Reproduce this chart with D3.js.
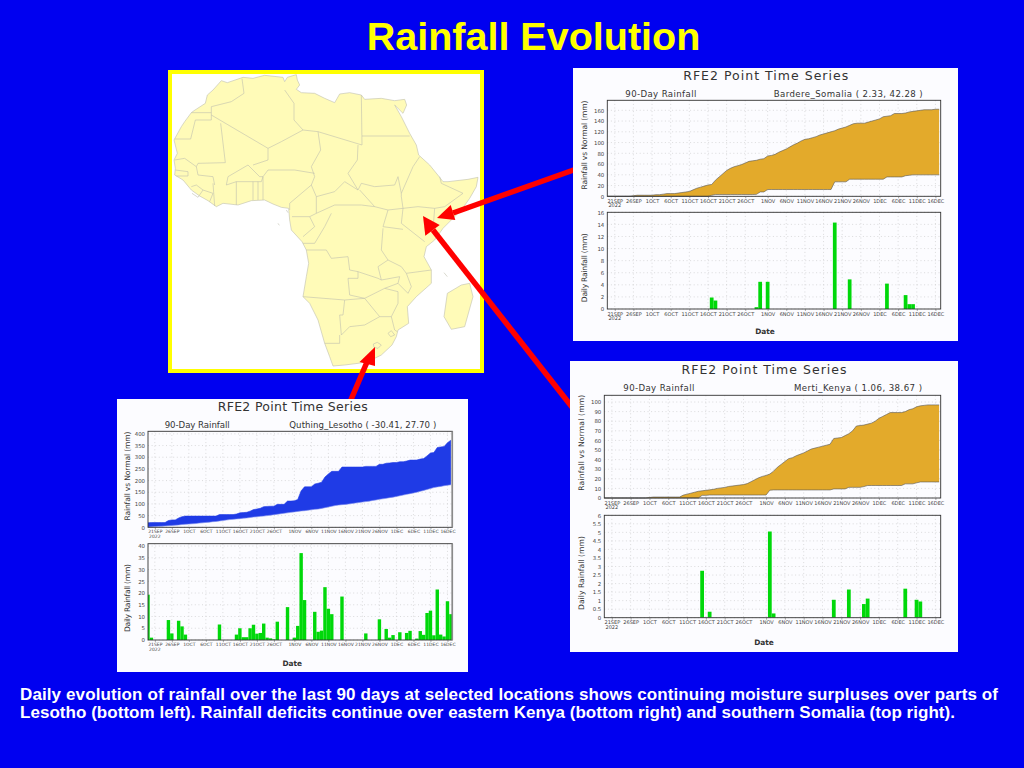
<!DOCTYPE html>
<html><head><meta charset="utf-8">
<script src="https://cdn.jsdelivr.net/npm/d3@7"></script>
<style>html,body{margin:0;padding:0;background:#0000F0;overflow:hidden}svg{display:block}</style>
</head><body><svg id="c" width="1024" height="768"></svg>
<script>
// ---------- DATA ----------
const titleText = "Rainfall Evolution";
const captionLines = [
 "Daily evolution of rainfall over the last 90 days at selected locations shows continuing moisture surpluses over parts of",
 "Lesotho (bottom left). Rainfall deficits continue over eastern Kenya (bottom right) and southern Somalia (top right)."];
const xTickLabels = ["21SEP","26SEP","1OCT","6OCT","11OCT","16OCT","21OCT","26OCT","1NOV","6NOV","11NOV","16NOV","21NOV","26NOV","1DEC","6DEC","11DEC","16DEC"];
const xTickDates = [[8,21],[8,26],[9,1],[9,6],[9,11],[9,16],[9,21],[9,26],[10,1],[10,6],[10,11],[10,16],[10,21],[10,26],[11,1],[11,6],[11,11],[11,16]];

// day index counted from 19 Sep 2022
const somaliaRainDays = [28,29,40,41,43,61,65,75,80,81,82];
const somaliaRainMm   = [1.9,1.4,0.3,4.5,4.5,14.3,4.9,4.2,2.3,0.8,0.8];
const somaliaNormal = [0,0,0,0,0,0,0,1,2,2,2,2,2,3,3,4,5,5,5,6,7,8,9,12,15,17,19,21,22,30,36,42,48,52,55,57,59,62,65,66,67,69,70,75,76,78,82,85,88,92,96,99,103,106,107,109,111,114,116,118,120,122,125,127,129,132,135,136,136,136,138,140,142,144,148,149,150,154,154,154,155,157,158,159,160,161,161,161,162,162];

const mertiRainDays = [26,28,44,45,61,65,69,70,80,83,84];
const mertiRainMm   = [2.75,0.35,5.05,0.25,1.05,1.65,0.8,1.12,1.7,1.05,0.95];
const mertiNormal = [0,0,0,0,0,0,0,0,0,0,0,0,0.5,1,1,1,1,1,1,1,1,3,4,5,6,7,7.5,8,8.5,9,10,10.5,11,12,12.5,13,13.5,14,15,17,19,21,22.5,23.5,25,28,32,35,38,41,42,44,45.5,47,49,51,52,53,54,55,56,62,62.5,63,65,67,70,75,75.5,76,77,78,80,83,85,87,89,89,89,89,90,92,93,95,96,96.5,97,97,97,97];

const lesothoRainDays = [0,1,6,7,9,10,11,21,26,27,28,29,30,31,32,33,34,35,36,37,38,41,43,44,45,46,49,50,51,52,53,54,57,64,68,70,71,72,74,76,77,79,80,81,82,83,84,85,86,87,88,89];
const lesothoRainMm   = [19.3,1,8.5,2.8,8.2,5.8,2.3,6.6,2.3,5,1.2,1.2,5,6.5,2.7,3,7,1,0.7,0.3,7.8,14,1,6,37,17,12,3.5,4,22.5,13.3,11,18.5,2.8,8.8,4.7,1,2.1,3.3,3,3.9,0.6,3.8,2.2,11.5,12.5,2,21.5,2.3,1.5,16.5,11];
const lesothoNormal = [1,2,3,4,5,6,7,8,9,10,12,13,14,15,16,18,19,21,22,24,25,27,29,31,33,34,36,37,39,40,42,44,45,47,48,50,52,54,56,58,60,62,64,66,68,70,71,73,75,77,78,81,84,87,90,93,95,97,98,100,102,104,106,108,110,112,115,117,120,122,124,127,129,132,135,138,141,144,147,150,154,158,162,166,170,173,175,178,180,182];

// Map geometry in map units
const africaOutline = [[70,128],[78,122],[112,100],[118,75],[135,60],[160,32],[178,38],[225,22],[255,25],[290,16],[345,22],[350,35],[358,22],[385,14],[388,30],[395,45],[385,58],[400,68],[440,70],[470,85],[500,98],[515,72],[545,68],[580,75],[590,88],[640,85],[680,92],[710,88],[716,105],[705,130],[680,105],[700,140],[725,190],[745,225],[752,255],[785,285],[815,322],[825,335],[840,335],[900,328],[930,322],[925,350],[905,385],[880,420],[850,450],[825,475],[800,510],[775,530],[768,560],[790,600],[790,640],[745,680],[718,710],[722,760],[690,780],[685,800],[672,825],[640,855],[600,875],[570,880],[530,885],[495,888],[485,860],[470,820],[450,750],[425,700],[405,680],[415,620],[422,580],[415,540],[402,515],[370,480],[365,450],[362,415],[340,412],[315,402],[290,390],[250,392],[210,405],[165,400],[145,410],[120,392],[95,378],[70,360],[45,330],[20,315],[22,295],[18,270],[28,250],[18,210],[40,170],[50,155]];
const madagascarOutline = [[905,640],[915,680],[890,770],[850,778],[828,740],[838,670],[880,645]];
const countryBorders = [
 [[70,128],[130,128],[130,110],[190,95],[228,70],[222,26]],
 [[20,207],[68,207],[82,150],[130,150],[130,128]],
 [[130,135],[300,235]],
 [[158,160],[172,278],[90,280],[85,290]],
 [[350,60],[378,100],[378,150],[405,180],[340,215],[300,235]],
 [[300,235],[300,270],[255,285]],
 [[580,75],[582,225],[450,185],[405,180]],
 [[582,198],[725,198]],
 [[450,185],[458,240],[430,290],[440,320]],
 [[440,310],[380,300],[300,300],[285,320]],
 [[570,225],[568,270],[540,310],[570,360]],
 [[570,360],[530,335],[500,365],[445,380],[430,345],[440,320]],
 [[570,360],[580,340],[620,350],[680,345],[690,320],[700,370]],
 [[755,260],[735,290],[700,370],[700,380],[705,415],[660,420],[620,410],[575,360]],
 [[815,320],[820,340],[885,370],[830,410],[800,415],[750,410],[705,415]],
 [[445,430],[500,405],[580,405],[620,410]],
 [[445,380],[445,430]],
 [[705,415],[700,460],[770,515]],
 [[800,415],[795,480]],
 [[660,420],[645,470],[705,478]],
 [[645,475],[640,540],[660,570],[700,590],[715,610],[790,600]],
 [[415,540],[475,540],[490,565],[540,560],[545,600],[570,605],[570,625],[540,625],[545,675]],
 [[405,680],[530,690],[590,685]],
 [[570,605],[630,625],[640,630],[630,590],[660,570]],
 [[545,675],[590,685],[650,655],[690,640],[695,620],[640,630]],
 [[690,640],[720,670],[730,650],[715,610]],
 [[590,685],[635,740],[670,740],[690,700],[690,665],[650,655]],
 [[530,690],[525,735],[515,735],[520,795],[545,770],[590,765],[635,740]],
 [[515,795],[515,820],[470,820]],
 [[670,740],[680,780],[688,785]],
 [[616,822],[628,817],[640,825],[630,835],[618,832],[616,822]],
 [[660,790],[670,782],[680,795],[668,800],[660,790]],
 [[20,270],[50,265],[85,290],[90,315],[135,320],[140,345]],
 [[22,300],[60,305],[60,318],[25,318]],
 [[135,340],[140,408]],
 [[175,345],[180,320],[240,285],[275,320],[285,320],[280,335],[205,335],[175,345]],
 [[205,335],[205,405]],[[255,335],[255,390]],[[270,335],[270,390]],[[285,320],[285,390]],
 [[70,350],[85,345],[105,360],[90,382],[72,370]],
 [[105,360],[135,370],[125,395]],
 [[430,345],[365,400],[365,420]],
 [[372,440],[425,440],[440,470],[405,500]],
 [[490,430],[470,470],[440,520],[405,520]],
 [[425,440],[445,430]],
 [[828,608],[838,620]],[[355,420],[360,428]],[[330,460],[334,466]]
];
const arrowSegments = [
 [[575,169.5],[453,213]],
 [[572,407],[433,230]],
 [[350,402],[367,362]]
];
const arrowHeads = [
 [[437,218],[450.7,205],[455.3,220]],
 [[423,216],[425.3,235.7],[439.7,225]],
 [[375,347],[359.5,362],[375,366]]
];

// ---------- LAYOUT ----------
const FONT = "'DejaVu Sans',sans-serif";
const captionWidths = [978,935];
const panels = [
 {box:[573,68,385,273], plot1:[607.3,100.3,940.7,196.3], plot2:[607.3,212.3,940.7,309],
  y1Max:178.6, y1Ticks:d3.range(0,161,20), y2Max:16, y2Ticks:d3.range(0,17,2),
  rainDays:somaliaRainDays, rainMm:somaliaRainMm, normal:somaliaNormal, tickFont:5,
  title:"RFE2 Point Time Series", titleCx:765.7, titleY:79.5, titleW:165,
  sub:"90-Day Rainfall", subX:625.3, subW:71, subY:96.5,
  loc:"Bardere_Somalia ( 2.33, 42.28 )", locX:773.7, locW:149,
  ylabelX:587, y1LabelCy:145, y1LabelLen:89, y2LabelCy:267.7, y2LabelLen:69, dateCx:765, dateY:334},
 {box:[570,361,388,291], plot1:[604.3,395.3,940.7,498], plot2:[604.3,515.3,940.7,617.7],
  y1Max:107, y1Ticks:d3.range(0,101,10), y2Max:6, y2Ticks:d3.range(0,6.1,0.5),
  rainDays:mertiRainDays, rainMm:mertiRainMm, normal:mertiNormal, tickFont:5,
  title:"RFE2 Point Time Series", titleCx:764, titleY:374, titleW:165,
  sub:"90-Day Rainfall", subX:623.3, subW:71, subY:391,
  loc:"Merti_Kenya ( 1.06, 38.67 )", locX:794, locW:128,
  ylabelX:584, y1LabelCy:442.7, y1LabelLen:96, y2LabelCy:573, y2LabelLen:74, dateCx:764, dateY:645},
 {box:[117,399,351,273], plot1:[148,431.3,452.3,527.3], plot2:[148,543.7,452.3,640],
  y1Max:411, y1Ticks:d3.range(0,401,50), y2Max:41, y2Ticks:d3.range(0,41,5),
  rainDays:lesothoRainDays, rainMm:lesothoRainMm, normal:lesothoNormal, tickFont:4.5,
  title:"RFE2 Point Time Series", titleCx:292.7, titleY:411, titleW:150,
  sub:"90-Day Rainfall", subX:164.7, subW:65, subY:427.5,
  loc:"Quthing_Lesotho ( -30.41, 27.70 )", locX:289.3, locW:147,
  ylabelX:130, y1LabelCy:476, y1LabelLen:89, y2LabelCy:598, y2LabelLen:68, dateCx:292.3, dateY:665.5}
];

// ---------- DRAW ----------
const svg = d3.select("#c");
svg.append("rect").attr("width",1024).attr("height",768).attr("fill","#0000F0");
svg.append("text").attr("x",533.5).attr("y",49.5).attr("text-anchor","middle")
  .attr("font-family","'Liberation Sans',Arial,sans-serif").attr("font-weight","bold")
  .attr("font-size",39.5).attr("fill","#FFFF00").text(titleText);
captionLines.forEach((t,i)=>svg.append("text").attr("x",20).attr("y",700+i*18)
  .attr("font-family","'Liberation Sans',Arial,sans-serif").attr("font-weight","bold")
  .attr("font-size",17).attr("fill","#fff")
  .attr("textLength",captionWidths[i]).attr("lengthAdjust","spacing").text(t));

// map
const mapX = d3.scaleLinear([0,960],[168,488]);
const mapY = d3.scaleLinear([0,915],[70,375]);
const mapLine = d3.line().x(d=>mapX(d[0])).y(d=>mapY(d[1]));
svg.append("rect").attr("x",170).attr("y",72).attr("width",312).attr("height",299)
  .attr("fill","#fff").attr("stroke","#FFFF00").attr("stroke-width",4);
[africaOutline,madagascarOutline].forEach(o=>svg.append("path").attr("d",mapLine(o)+"Z")
  .attr("fill","#FFFBB8").attr("stroke","#BFBFAE").attr("stroke-width",0.6));
svg.append("g").selectAll("path").data(countryBorders).join("path").attr("d",mapLine)
  .attr("fill","none").attr("stroke","#BFBFAE").attr("stroke-width",0.6);

// arrows
const plainLine = d3.line();
svg.append("g").selectAll("path").data(arrowSegments).join("path").attr("d",plainLine)
  .attr("stroke","#FF0000").attr("stroke-width",5.5).attr("fill","none");
svg.append("g").selectAll("path").data(arrowHeads).join("path").attr("d",d=>plainLine(d)+"Z").attr("fill","#FF0000");

// panels
const t0 = Date.UTC(2022,8,19), t1 = Date.UTC(2022,11,17,10);
const DAY = 864e5;
const dates = d3.range(90).map(i=>new Date(t0+i*DAY));
const xTicks = xTickDates.map(d=>new Date(Date.UTC(2022,d[0],d[1])));
const fmtY = v=>String(v);

function drawAxes(g,x,y,yTicks,plot,tf,grayRight,extra){
  const [l,t,r,b]=plot;
  const grid=g.append("g").attr("stroke","#c4c4c4").attr("stroke-width",0.6).attr("stroke-dasharray","1,2.6");
  grid.selectAll("line.v").data(xTicks).join("line").attr("class","v")
    .attr("x1",x).attr("x2",x).attr("y1",t).attr("y2",b);
  grid.selectAll("line.h").data(yTicks).join("line").attr("class","h")
    .attr("x1",l).attr("x2",r).attr("y1",y).attr("y2",y);
  extra();
  g.append("rect").attr("x",l).attr("y",t).attr("width",r-l).attr("height",b-t)
    .attr("fill","none").attr("stroke","#333").attr("stroke-width",0.9);
  if(grayRight) g.append("line").attr("x1",r).attr("x2",r).attr("y1",t).attr("y2",b)
    .attr("stroke","#8a8a8a").attr("stroke-width",1.6);
  const ax=g.append("g").attr("transform",`translate(${l},0)`)
    .call(d3.axisLeft(y).tickValues(yTicks).tickFormat(fmtY).tickSize(0).tickPadding(3));
  ax.select(".domain").remove();
  ax.selectAll("text").attr("font-size",5.4).attr("font-family",FONT).attr("fill","#444");
  const bx=g.append("g").attr("transform",`translate(0,${b})`)
    .call(d3.axisBottom(x).tickValues(xTicks).tickFormat((d,i)=>xTickLabels[i]).tickSize(2).tickPadding(1));
  bx.select(".domain").remove();
  bx.selectAll("line").attr("stroke","#555").attr("stroke-width",0.5);
  bx.selectAll("text").attr("font-size",tf).attr("font-family",FONT).attr("fill","#444");
  g.append("text").attr("x",x(xTicks[0])).attr("y",b+11).attr("text-anchor","middle")
    .attr("font-size",tf).attr("font-family",FONT).attr("fill","#444").text("2022");
}

function rotLabel(g,txt,xp,cy,len){
  g.append("text").attr("transform",`translate(${xp},${cy}) rotate(-90)`).attr("text-anchor","middle")
    .attr("font-family",FONT).attr("font-size",7.6).attr("fill","#333")
    .attr("textLength",len).attr("lengthAdjust","spacing").text(txt);
}

panels.forEach((p,pi)=>{
  const g=svg.append("g");
  g.append("rect").attr("x",p.box[0]).attr("y",p.box[1]).attr("width",p.box[2]).attr("height",p.box[3]).attr("fill","#FCFCFF");
  const tx=(s,x,y,size,len,anchor)=>g.append("text").attr("x",x).attr("y",y).attr("text-anchor",anchor||"start")
    .attr("font-family",FONT).attr("font-size",size).attr("fill","#333").attr("textLength",len).attr("lengthAdjust","spacing").text(s);
  tx(p.title,p.titleCx,p.titleY,12.5,p.titleW,"middle");
  tx(p.sub,p.subX,p.subY,8.6,p.subW);
  tx(p.loc,p.locX,p.subY,8.6,p.locW);

  const daily=new Array(90).fill(0);
  p.rainDays.forEach((d,i)=>daily[d]=p.rainMm[i]);
  const cum=Array.from(d3.cumsum(daily));

  const x1=d3.scaleUtc([t0,t1],[p.plot1[0],p.plot1[2]]);
  const y1=d3.scaleLinear([0,p.y1Max],[p.plot1[3],p.plot1[1]]);
  const surplus=pi===2;
  drawAxes(g,x1,y1,p.y1Ticks,p.plot1,p.tickFont,surplus,()=>{
    const area=d3.area().x((d,i)=>x1(dates[i])).y0((d,i)=>y1(p.normal[i])).y1((d,i)=>y1(cum[i]));
    g.append("path").datum(cum).attr("d",area).attr("fill",surplus?"#1F3BE6":"#E3AA2B");
    const ln=s=>d3.line().x((d,i)=>x1(dates[i])).y(d=>y1(d))(s);
    g.append("path").attr("d",ln(p.normal)).attr("fill","none").attr("stroke",surplus?"#7788ee":"#555").attr("stroke-width",0.6);
    g.append("path").attr("d",ln(cum)).attr("fill","none").attr("stroke",surplus?"#1F3BE6":"#555").attr("stroke-width",0.6);
  });

  const cid="clip"+pi;
  svg.append("clipPath").attr("id",cid).append("rect").attr("x",p.plot2[0]).attr("y",p.plot2[1])
    .attr("width",p.plot2[2]-p.plot2[0]).attr("height",p.plot2[3]-p.plot2[1]);
  const x2=d3.scaleUtc([t0,t1],[p.plot2[0],p.plot2[2]]);
  const y2=d3.scaleLinear([0,p.y2Max],[p.plot2[3],p.plot2[1]]);
  const dx=x2(new Date(t0+DAY))-x2(new Date(t0));
  drawAxes(g,x2,y2,p.y2Ticks,p.plot2,p.tickFont,surplus,()=>{
    g.append("g").attr("clip-path",`url(#${cid})`).selectAll("rect")
      .data(daily.map((v,i)=>({v,i})).filter(d=>d.v>0)).join("rect")
      .attr("x",d=>x2(dates[d.i])-dx/2).attr("width",dx)
      .attr("y",d=>y2(d.v)).attr("height",d=>y2(0)-y2(d.v)).attr("fill","#00D80A");
  });

  rotLabel(g,"Rainfall vs Normal (mm)",p.ylabelX,p.y1LabelCy,p.y1LabelLen);
  rotLabel(g,"Daily Rainfall (mm)",p.ylabelX,p.y2LabelCy,p.y2LabelLen);
  g.append("text").attr("x",p.dateCx).attr("y",p.dateY).attr("text-anchor","middle")
    .attr("font-family",FONT).attr("font-size",7.4).attr("font-weight","bold").attr("fill","#333").text("Date");
});
</script></body></html>
